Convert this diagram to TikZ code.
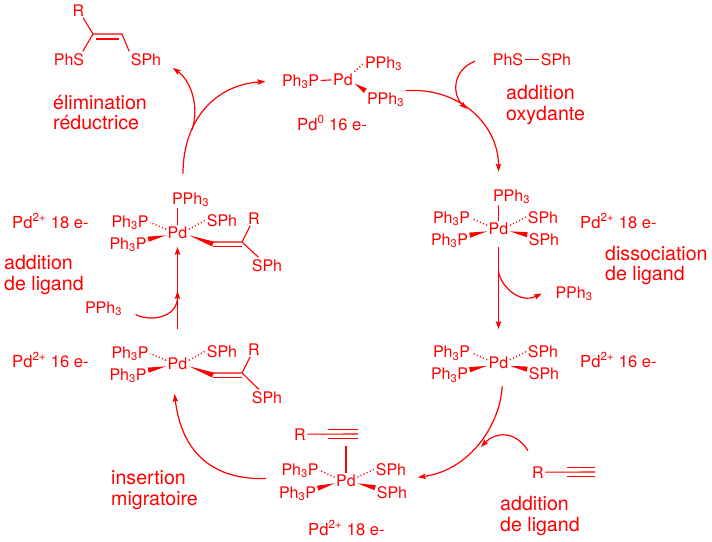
\documentclass[tikz,border=0pt]{standalone}
\usepackage{fontspec}
\setmainfont{TeX Gyre Heros}
\usetikzlibrary{arrows.meta, calc}

\begin{document}
\begin{tikzpicture}[
    x=1pt, y=-1pt, red,
    atom/.style={font=\fontsize{16}{18}\selectfont, inner sep=1.5pt, anchor=base},
    state/.style={font=\fontsize{16.6}{18}\selectfont, inner sep=0pt, anchor=base west},
    lab/.style={font=\fontsize{19.6}{20.8}\selectfont, align=left, inner sep=0pt, anchor=west},
    bond/.style={line width=1.1pt},
    hash/.style={line width=1.5pt, dash pattern=on 1pt off 2.4pt},
    wedge/.style={to path={-- ($(\tikztotarget)!2.6pt!90:(\tikztostart)$)
                           -- ($(\tikztotarget)!2.6pt!-90:(\tikztostart)$) -- cycle}},
    arr/.style={-{Stealth[length=8pt, width=5.5pt, inset=1.5pt]}, line width=1.2pt}
  ]
  \useasboundingbox (0,0) rectangle (712,541);

  %% ---- Product ----
  \node[atom] (rp)   at (78.5,16) {R};
  \node[atom] (phsp) at (69,65)   {PhS};
  \node[atom] (sphp) at (146,65)  {SPh};
  \coordinate (cp1) at (93,34);
  \coordinate (cp2) at (122,34);
  \draw[bond] (rp) -- (cp1) -- (cp2) -- (sphp.north west);
  \draw[bond] (cp1) -- ([xshift=-3pt]phsp.north east);
  \draw[bond] ([xshift=3pt,yshift=-5pt]cp1) -- ([xshift=-3pt,yshift=-5pt]cp2);

  %% ---- Pd(0) ----
  \node[atom] (pla) at (300.5,86) {Ph\textsubscript{3}P};
  \node[atom] (pda) at (343,85)   {Pd};
  \node[atom] (ppa) at (383.5,68) {PPh\textsubscript{3}};
  \node[atom] (ppb) at (385.5,104) {PPh\textsubscript{3}};
  \draw[bond] (pla) -- (pda);
  \draw[hash] (pda.north east) -- (ppa.west);
  \fill (pda.-20) to[wedge] (ppb.north west);

  %% ---- PhS-SPh ----
  \node[atom] (phs) at (508,65) {PhS};
  \node[atom] (sph) at (556,65) {SPh};
  \draw[bond] (phs) -- (sph);

  %% ---- Pd(II) 18 e-, right ----
  \node[atom] (pdb)  at (498.5,234) {Pd};
  \node[atom] (pphb) at (511.5,201) {PPh\textsubscript{3}};
  \node[atom] (plb1) at (451.5,223) {Ph\textsubscript{3}P};
  \node[atom] (plb2) at (449.5,245) {Ph\textsubscript{3}P};
  \node[atom] (spb1) at (543,223)   {SPh};
  \node[atom] (spb2) at (544,245)   {SPh};
  \draw[bond] (pdb) -- (pdb |- pphb.south);
  \draw[hash] (pdb.165) -- (plb1.east);
  \draw[hash] (pdb.15) -- (spb1.west);
  \fill (pdb.195) to[wedge] (plb2.15);
  \fill (pdb.-15) to[wedge] (spb2.165);

  %% ---- Pd(II) 16 e-, right ----
  \node[atom] (pdc)  at (498.5,368.5) {Pd};
  \node[atom] (plc1) at (451.5,357.5) {Ph\textsubscript{3}P};
  \node[atom] (plc2) at (449.5,379.5) {Ph\textsubscript{3}P};
  \node[atom] (spc1) at (543,357.5)   {SPh};
  \node[atom] (spc2) at (544,379.5)   {SPh};
  \draw[hash] (pdc.165) -- (plc1.east);
  \draw[hash] (pdc.15) -- (spc1.west);
  \fill (pdc.195) to[wedge] (plc2.15);
  \fill (pdc.-15) to[wedge] (spc2.165);

  %% ---- Pd(II) 18 e-, bottom ----
  \node[atom] (pdd)  at (346,486) {Pd};
  \node[atom] (rd)   at (300,440) {R};
  \node[atom] (pld1) at (300,475) {Ph\textsubscript{3}P};
  \node[atom] (pld2) at (297.5,498) {Ph\textsubscript{3}P};
  \node[atom] (spd1) at (391,475) {SPh};
  \node[atom] (spd2) at (392,498) {SPh};
  \coordinate (ald) at (328,434);
  \coordinate (alde) at (358,434);
  \draw[bond] (rd) -- (alde);
  \draw[bond] ([yshift=4.6pt]ald) -- ([yshift=4.6pt]alde);
  \draw[bond] ([yshift=-4.6pt]ald) -- ([yshift=-4.6pt]alde);
  \draw[bond] (pdd) -- ([yshift=-12pt]pdd |- alde);
  \draw[hash] (pdd.165) -- (pld1.east);
  \draw[hash] (pdd.15) -- (spd1.west);
  \fill (pdd.195) to[wedge] (pld2.15);
  \fill (pdd.-15) to[wedge] (spd2.165);

  %% ---- Free alkyne ----
  \node[atom] (ral) at (538,478) {R};
  \coordinate (alk) at (567,472);
  \coordinate (alke) at (595,472);
  \draw[bond] (ral) -- (alke);
  \draw[bond] ([yshift=4.6pt]alk) -- ([yshift=4.6pt]alke);
  \draw[bond] ([yshift=-4.6pt]alk) -- ([yshift=-4.6pt]alke);

  %% ---- Pd(II) 16 e-, left ----
  \node[atom] (pde)  at (177.5,369) {Pd};
  \node[atom] (ple1) at (130,358) {Ph\textsubscript{3}P};
  \node[atom] (ple2) at (128,380) {Ph\textsubscript{3}P};
  \node[atom] (spe1) at (222,357) {SPh};
  \node[atom] (re)   at (254,355) {R};
  \node[atom] (spe2) at (267,403) {SPh};
  \coordinate (ce1) at (213,373);
  \coordinate (ce2) at (242,373);
  \draw[hash] (pde.165) -- (ple1.east);
  \draw[hash] (pde.15) -- (spe1.west);
  \fill (pde.195) to[wedge] (ple2.15);
  \fill (pde.-15) to[wedge] ([yshift=-2pt]ce1);
  \draw[bond] (re) -- (ce2) -- (ce1);
  \draw[bond] (ce2) -- (spe2);
  \draw[bond] ([yshift=-4.5pt]ce1) -- ([yshift=-4.5pt]ce2);

  %% ---- Pd(II) 18 e-, left ----
  \node[atom] (pdf)  at (177.5,238) {Pd};
  \node[atom] (pphf) at (190.5,204) {PPh\textsubscript{3}};
  \node[atom] (plf1) at (130,227)   {Ph\textsubscript{3}P};
  \node[atom] (plf2) at (128,249)   {Ph\textsubscript{3}P};
  \node[atom] (spf1) at (222,226)   {SPh};
  \node[atom] (rf)   at (254,224)   {R};
  \node[atom] (spf2) at (267,271)   {SPh};
  \coordinate (cf1) at (213,242);
  \coordinate (cf2) at (242,242);
  \draw[bond] (pdf) -- (pdf |- pphf.south);
  \draw[hash] (pdf.165) -- (plf1.east);
  \draw[hash] (pdf.15) -- (spf1.west);
  \fill (pdf.195) to[wedge] (plf2.15);
  \fill (pdf.-15) to[wedge] ([yshift=-2pt]cf1);
  \draw[bond] (rf) -- (cf2) -- (cf1);
  \draw[bond] (cf2) -- (spf2);
  \draw[bond] ([yshift=-4.5pt]cf1) -- ([yshift=-4.5pt]cf2);

  %% ---- Free phosphines ----
  \node[atom] (ppr) at (574,298) {PPh\textsubscript{3}};
  \node[atom] (ppl) at (103.5,313) {PPh\textsubscript{3}};

  %% ---- Electron counts ----
  \node[state] (sa) at (297,130) {Pd\textsuperscript{0} 16 e-};
  \node[state] (sb) at (580,228) {Pd\textsuperscript{2+} 18 e-};
  \node[state] (sc) at (580,367) {Pd\textsuperscript{2+} 16 e-};
  \node[state] (sd) at (308,535) {Pd\textsuperscript{2+} 18 e-};
  \node[state] (se) at (12,367)  {Pd\textsuperscript{2+} 16 e-};
  \node[state] (sf) at (12,228)  {Pd\textsuperscript{2+} 18 e-};

  %% ---- Step names ----
  \node[lab] (la) at (53,112.5) {élimination\\réductrice};
  \node[lab] (lb) at (506,105)  {addition\\oxydante};
  \node[lab] (lc) at (605,265.5) {dissociation\\de ligand};
  \node[lab] (ld) at (500,516)  {addition\\de ligand};
  \node[lab] (le) at (111,490)  {insertion\\migratoire};
  \node[lab] (lf) at (4,275)    {addition\\de ligand};

  %% ---- Cycle arrows ----
  \coordinate (mergea) at (192,130);
  \coordinate (mergeb) at (467,109);
  \coordinate (mergec) at (498.5,270);
  \coordinate (merged) at (481,447);
  \coordinate (mergee) at (177.5,291);
  \draw[arr] ([xshift=-7.5pt,yshift=17pt]pphf.north) .. controls (183,120) and (215,85) .. ([xshift=-15pt]pla.west);
  \draw[arr] (mergea) .. controls (200,105) and (190,80) .. ([xshift=10pt,yshift=-1pt]sphp.south east);
  \draw[arr] (ppb.north east) .. controls (460,87) and (498.5,125) .. ([yshift=16pt]pdb |- pphb.north);
  \draw[arr] ([xshift=-16pt,yshift=-2pt]phs.west) .. controls (452,70) and (452,95) .. (mergeb);
  \draw[arr, shorten <=11pt, shorten >=26pt] (pdb) -- (pdc);
  \draw[arr] (mergec) .. controls (498.5,283) and (518,305) .. ([xshift=-12pt]ppr.west);
  \draw[arr] ([xshift=3.7pt,yshift=-16pt]pdc.south) .. controls (500,425) and (470,470) .. ([xshift=9pt,yshift=7pt]spd2.north east);
  \draw[arr] ([xshift=-10pt,yshift=14pt]ral.north) .. controls (515,430) and (495,432) .. (merged);
  \draw[arr] ([xshift=-14pt,yshift=-8pt]pld1.west) .. controls (215,480) and (182,455) .. ([xshift=-3pt,yshift=-23pt]pde.south);
  \draw[arr, shorten <=27pt, shorten >=7pt] (pde) -- (pdf);
  \draw[arr] ([xshift=12pt,yshift=-6pt]ppl.east) .. controls (150,322) and (177.5,318) .. (mergee);

\end{tikzpicture}
\end{document}
